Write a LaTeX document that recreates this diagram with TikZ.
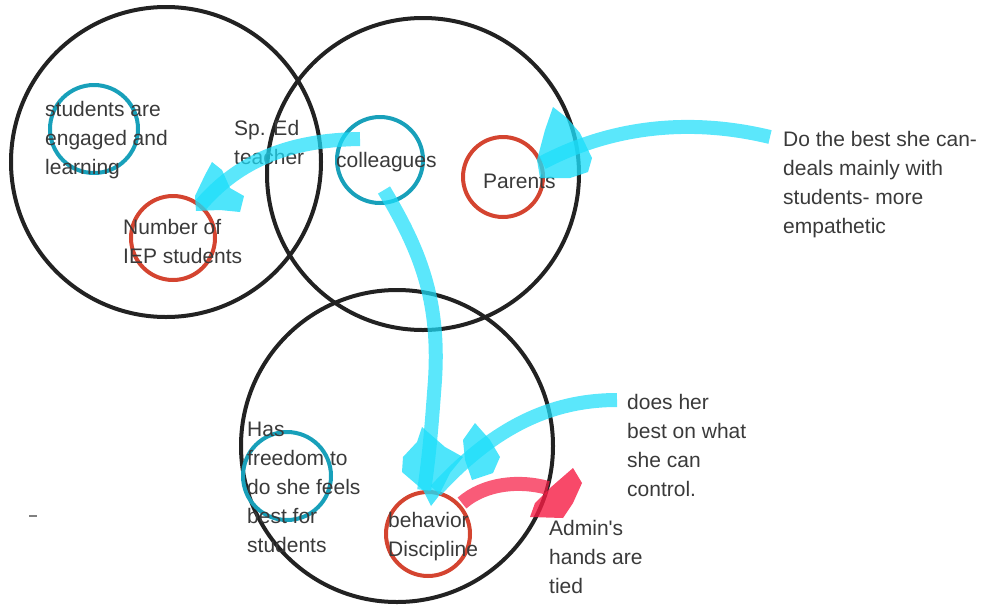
\documentclass[tikz,border=0pt]{standalone}
\usepackage{fontspec}
\setmainfont{Liberation Sans}
\begin{document}
\definecolor{ink}{RGB}{58,58,58}
\definecolor{ringblack}{RGB}{34,34,34}
\definecolor{ringteal}{RGB}{24,160,186}
\definecolor{ringred}{RGB}{212,68,48}
\definecolor{brushcyan}{RGB}{28,222,250}
\definecolor{brushred}{RGB}{246,28,68}
\begin{tikzpicture}[x=1pt,y=-1pt,
  bigring/.style={draw=ringblack,line width=4pt,circle,inner sep=0pt,minimum size=#1},
  tealring/.style={draw=ringteal,line width=4pt,circle,inner sep=0pt,minimum size=#1},
  redring/.style={draw=ringred,line width=4pt,circle,inner sep=0pt,minimum size=#1},
  % multi-line labels are placed by the baseline of their last line
  lbl/.style={anchor=base west,align=left,inner sep=0pt,text=ink,
    font=\fontsize{21}{29}\selectfont},
  cyanstroke/.style={draw=brushcyan,line width=14pt,opacity=0.72,line cap=butt},
  cyanhead/.style={fill=brushcyan,opacity=0.78},
  redstroke/.style={draw=brushred,line width=14pt,opacity=0.72,line cap=butt},
  redhead/.style={fill=brushred,opacity=0.8}]
\useasboundingbox (0,0) rectangle (988,611);

% the three overlapping sets
\node[bigring=310pt] (setA) at (166,162) {};
\node[bigring=312pt] (setB) at (423,174) {};
\node[bigring=312pt] (setC) at (397,446) {};

% small rings
\node[tealring=88pt] (engaged) at (94,129) {};
\node[redring=84pt] (iep) at (173,238) {};
\node[tealring=86pt] (coll) at (380,160) {};
\node[redring=80pt] (parents) at (503,177) {};
\node[tealring=88pt] (freedom) at (287,476) {};
\node[redring=84pt] (behav) at (428,534) {};

% labels
\node[lbl] (tEngaged) at (45,174) {students are\\engaged and\\learning};
\node[lbl] (tSped) at (234,164) {Sp. Ed\\teacher};
\node[lbl] (tIep) at (123,263) {Number of\\IEP students};
\node[lbl] (tColl) at (336,167) {colleagues};
\node[lbl] (tParents) at (483,188) {Parents};
\node[lbl] (tBest) at (783,233) {Do the best she can-\\deals mainly with\\students- more\\empathetic};
\node[lbl] (tFreedom) at (247,552) {Has\\freedom to\\do she feels\\best for\\students};
\node[lbl] (tBehav) at (388,556) {behavior\\Discipline};
\node[lbl] (tControl) at (627,496) {does her\\best on what\\she can\\control.};
\node[lbl] (tAdmin) at (549,593) {Admin\textquotesingle s\\hands are\\tied};

% free ends of the brush strokes
\coordinate (aStart) at (360,139);
\coordinate (bStart) at (770,137);
\coordinate (cStart) at (384,190);
\coordinate (dStart) at (617,400);
\coordinate (eStart) at (462,503);

% colleagues -> number of IEP students
\draw[cyanstroke] (aStart) .. controls (290,140) and (240,160) .. (iep.50);
\fill[cyanhead] (212,162) -- (222,170) -- (230,188) -- (244,196) -- (240,212)
  -- (220,210) -- (196,211) -- (195,196) -- (205,175) -- cycle;

% note -> parents
\draw[cyanstroke] (bStart) .. controls (700,120) and (620,122) .. (parents.20);
\fill[cyanhead] (553,107) -- (567,118) -- (580,133) -- (592,158) -- (588,172)
  -- (570,178) -- (540,178) -- (537,160) -- (545,130) -- cycle;

% colleagues -> behavior
\draw[cyanstroke] (cStart) .. controls (420,250) and (440,300) .. (435,380)
  .. controls (432,420) and (430,450) .. (behav.95);
\fill[cyanhead] (422,427) -- (445,447) -- (463,457) -- (450,473) -- (438,497)
  -- (431,506) -- (423,490) -- (402,472) -- (403,457) -- (417,442) -- cycle;

% note -> behavior
\draw[cyanstroke] (dStart) .. controls (560,400) and (500,420) .. (behav.80);
\fill[cyanhead] (475,423) -- (490,440) -- (500,457) -- (493,473) -- (472,480)
  -- (465,460) -- (463,440) -- cycle;

% behavior -> admin
\draw[redstroke] (eStart) .. controls (485,483) and (520,480) .. (548,488);
\fill[redhead] (573,468) -- (582,483) -- (573,503) -- (563,518) -- (530,517)
  -- (535,503) -- (550,488) -- cycle;

% stray pen mark
\draw[gray,line width=2pt] (29,516) -- (37,516);
\end{tikzpicture}
\end{document}
